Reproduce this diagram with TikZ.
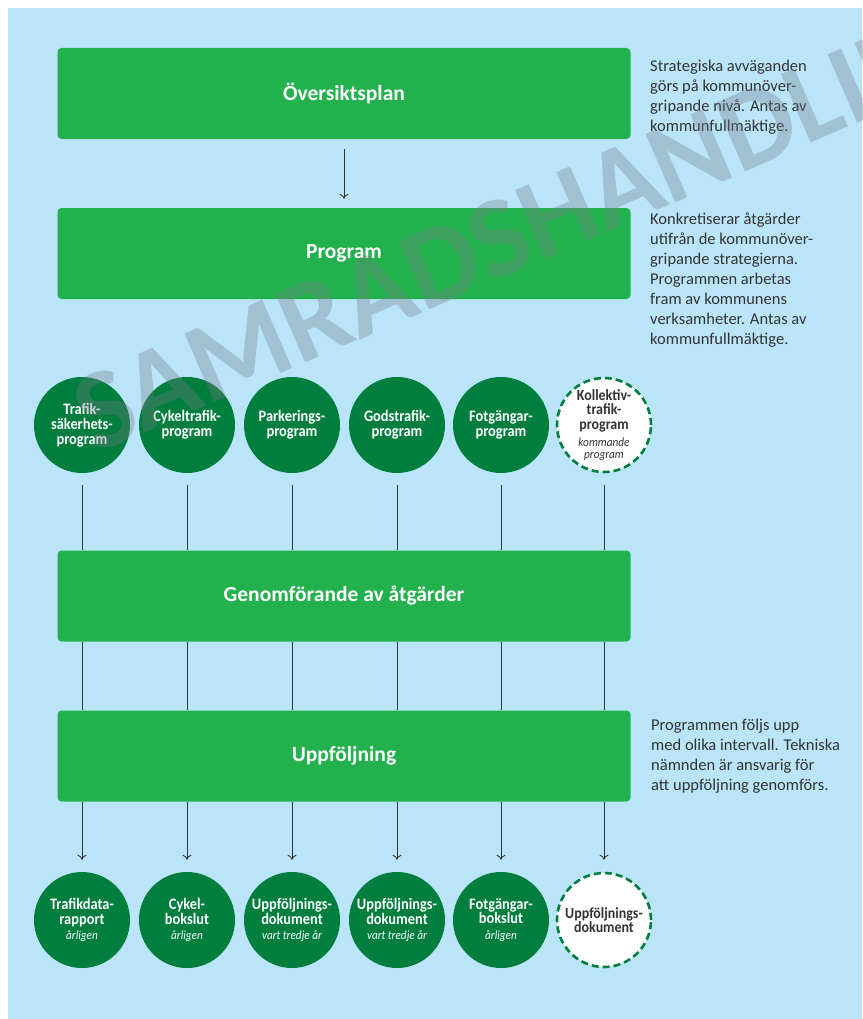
\documentclass[tikz,border=0pt]{standalone}
\usepackage{fontspec}
\setmainfont{Carlito}
\newfontfamily\condfont{Carlito}[FakeStretch=0.9]
\usetikzlibrary{arrows.meta}
\definecolor{bgblue}{RGB}{186,229,249}
\definecolor{boxgreen}{RGB}{34,177,76}
\definecolor{circgreen}{RGB}{0,126,62}
\definecolor{textgray}{RGB}{51,51,51}
\definecolor{wmgray}{RGB}{115,125,135}
\newcommand{\smallit}[1]{{\condfont\fontsize{12.5}{12}\selectfont\itshape\mdseries #1}}
\tikzset{
  bigbox/.style={rectangle, rounded corners=4pt, fill=boxgreen, minimum width=573pt, minimum height=91pt, inner sep=0pt, text=white, font=\fontsize{21.5}{24}\selectfont\bfseries},
  prog/.style={circle, fill=circgreen, minimum size=96pt, inner sep=0pt, align=center, text=white, font=\condfont\fontsize{16}{14.8}\selectfont\bfseries},
  futureprog/.style={circle, fill=white, draw=circgreen, line width=2.6pt, dash pattern=on 7pt off 4pt, minimum size=94pt, inner sep=0pt, align=center, text=textgray, font=\condfont\fontsize{15.5}{14.5}\selectfont\bfseries},
  sidetext/.style={anchor=north west, inner sep=0pt, align=left, text=textgray, font=\fontsize{16.5}{20}\selectfont},
  conn/.style={draw=textgray, line width=0.9pt},
  arr/.style={conn, -{To[length=5pt,width=9pt]}}
}
\begin{document}
\begin{tikzpicture}[x=1pt,y=-1pt]
\useasboundingbox (0,0) rectangle (862,1019);
\fill[white] (0,0) rectangle (862,1019);
\fill[bgblue] (8,8) rectangle (862,1019);

% main boxes
\node[bigbox] (op) at (344,93.5) {Översiktsplan};
\node[bigbox] (prg) at (344,253.5) {Program};
\node[bigbox] (gen) at (344,596) {Genomförande av åtgärder};
\node[bigbox] (upp) at (344,756) {Uppföljning};

\draw[arr, shorten <=10pt, shorten >=9pt] (op) -- (prg);

% side texts
\node[sidetext] (t1) at (650,60) {Strategiska avväganden\\görs på kommunöver-\\gripande nivå. Antas av\\kommunfullmäktige.};
\node[sidetext] (t2) at (650,213) {Konkretiserar åtgärder\\utifrån de kommunöver-\\gripande strategierna.\\Programmen arbetas\\fram av kommunens\\verksamheter. Antas av\\kommunfullmäktige.};
\node[sidetext] (t3) at (651,718.5) {Programmen följs upp\\med olika intervall. Tekniska\\nämnden är ansvarig för\\att uppföljning genomförs.};

% program circles
\node[prog] (p1) at (82,425) {Trafik-\\säkerhets-\\program};
\node[prog] (p2) at (187,425) {Cykeltrafik-\\program};
\node[prog] (p3) at (292,425) {Parkerings-\\program};
\node[prog] (p4) at (397,425) {Godstrafik-\\program};
\node[prog] (p5) at (501,425) {Fotgängar-\\program};
\node[futureprog] (p6) at (604,425) {Kollektiv-\\trafik-\\program\\[3pt]\smallit{kommande}\\[-3pt]\smallit{program}};

% result circles
\node[prog] (r1) at (82,920) {Trafikdata-\\rapport\\[1pt]\smallit{årligen}};
\node[prog] (r2) at (187,920) {Cykel-\\bokslut\\[1pt]\smallit{årligen}};
\node[prog] (r3) at (292,920) {Uppföljnings-\\dokument\\[1pt]\smallit{vart tredje år}};
\node[prog] (r4) at (397,920) {Uppföljnings-\\dokument\\[1pt]\smallit{vart tredje år}};
\node[prog] (r5) at (501,920) {Fotgängar-\\bokslut\\[1pt]\smallit{årligen}};
\node[futureprog] (r6) at (604,920) {Uppföljnings-\\dokument};

% connectors
\foreach \i in {1,...,6}{
  \draw[conn, shorten <=12pt] (p\i) -- (gen.north -| p\i);
  \draw[conn] (gen.south -| p\i) -- (upp.north -| p\i);
  \draw[arr, shorten >=12pt] (upp.south -| r\i) -- (r\i);
}

% watermark
\begin{scope}
\clip (8,8) rectangle (862,1019);
\node[rotate=23.5, anchor=base west, inner sep=0pt, text=wmgray, opacity=0.35, font=\fontsize{115}{115}\selectfont\bfseries] (wm) at (95,455) {SAMRADSHANDLING};
\end{scope}
\end{tikzpicture}
\end{document}
